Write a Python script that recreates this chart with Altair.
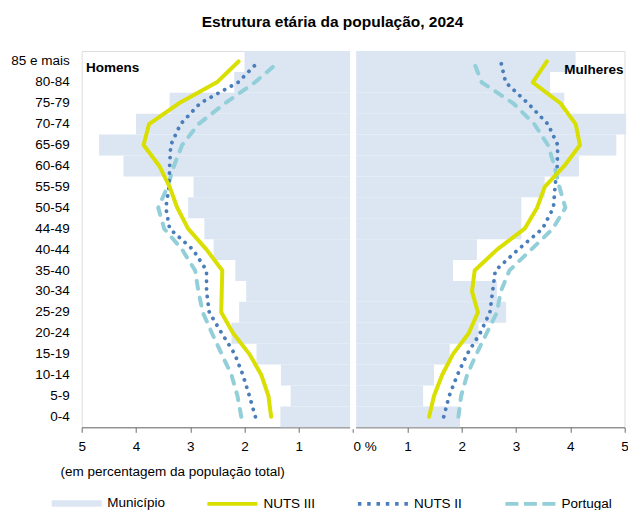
import altair as alt
import pandas as pd

# ---------------- data ----------------
ages = ["0-4", "5-9", "10-14", "15-19", "20-24", "25-29", "30-34", "35-40", "40-44",
        "44-49", "50-54", "55-59", "60-64", "65-69", "70-74", "75-79", "80-84", "85 e mais"]

series = ["Município", "NUTS III", "NUTS II", "Portugal"]

mun_h = [1.34, 1.15, 1.33, 1.78, 2.24, 2.10, 1.97, 2.17, 2.57, 2.74, 3.04, 2.94, 4.23, 4.68, 4.00, 3.38, 2.19, 2.00]
mun_m = [1.97, 1.29, 1.49, 1.78, 2.31, 2.82, 2.65, 1.84, 2.28, 3.10, 3.10, 3.53, 4.16, 4.85, 5.03, 3.89, 3.63, 4.10]
n3_h = [1.51, 1.56, 1.69, 1.91, 2.21, 2.43, 2.42, 2.41, 2.70, 3.04, 3.24, 3.38, 3.57, 3.86, 3.76, 3.21, 2.51, 2.11]
n3_m = [1.40, 1.49, 1.64, 1.84, 2.13, 2.30, 2.19, 2.24, 2.65, 3.16, 3.39, 3.53, 3.89, 4.18, 4.10, 3.82, 3.31, 3.57]
n2_h = [1.80, 1.91, 2.03, 2.18, 2.42, 2.65, 2.70, 2.70, 2.95, 3.38, 3.45, 3.39, 3.38, 3.36, 3.18, 2.82, 2.12, 1.74]
n2_m = [1.67, 1.77, 1.92, 2.10, 2.34, 2.52, 2.57, 2.62, 3.04, 3.49, 3.69, 3.72, 3.76, 3.77, 3.59, 3.22, 2.81, 2.72]
pt_h = [2.06, 2.13, 2.24, 2.42, 2.60, 2.77, 2.85, 2.91, 3.15, 3.48, 3.59, 3.42, 3.30, 3.15, 2.85, 2.36, 1.81, 1.36]
pt_m = [1.94, 1.99, 2.10, 2.27, 2.46, 2.65, 2.72, 2.88, 3.28, 3.68, 3.91, 3.80, 3.71, 3.59, 3.34, 2.95, 2.37, 2.22]

x_ticks = [-5, -4, -3, -2, -1, 0, 1, 2, 3, 4, 5]

# ---------------- table ----------------
rows = []
for serie, hv, mv in [("Município", mun_h, mun_m), ("NUTS III", n3_h, n3_m),
                      ("NUTS II", n2_h, n2_m), ("Portugal", pt_h, pt_m)]:
    for i, a in enumerate(ages):
        rows.append({"idade": a, "idx": i, "serie": serie, "sexo": "Homens", "x": -hv[i]})
        rows.append({"idade": a, "idx": i, "serie": serie, "sexo": "Mulheres", "x": mv[i]})
df = pd.DataFrame(rows)

W = 542.8
H = 376.3
FONT = "Liberation Sans"
FS = 13.5

colors = ["#dce6f2", "#d9df00", "#4a7ebb", "#93cfd9"]
line_series = series[1:]
line_colors = colors[1:]
line_dashes = [[1, 0], [3.5, 5.8], [13, 5.5]]

xscale = alt.Scale(domain=[-5, 5], nice=False, zero=False)
yscale = alt.Scale(paddingInner=0, paddingOuter=0)
age_order = list(reversed(ages))

xaxis = alt.Axis(
    values=x_ticks,
    labelExpr="datum.value == 0 ? '0 %' : '' + abs(datum.value)",
    labelAlign={"condition": {"test": "datum.value == 0", "value": "left"}, "value": "center"},
    labelFlush=False, grid=False,
    domainColor="#6b6b6b", tickColor="#6b6b6b", tickSize=5,
    labelFontSize=FS, labelColor="black", labelPadding=7.5, labelFont=FONT,
    title="(em percentagem da população total)",
    titleFontSize=FS, titleFontWeight="normal", titleColor="black", titleFont=FONT,
    titleAnchor="start", titleAlign="left", titleBaseline="alphabetic",
    titleX=-21.7, titleY=48.5,
)
yaxis = alt.Axis(title=None, ticks=False, domain=False, grid=False,
                 labelFontSize=FS, labelColor="black", labelPadding=12.4, labelFont=FONT)

X = alt.X("x:Q", scale=xscale, axis=xaxis)
Y = alt.Y("idade:N", sort=age_order, scale=yscale, axis=yaxis)

base = alt.Chart(df)

bars = base.transform_filter(alt.datum.serie == "Município").mark_bar(
    color=colors[0]).encode(x=X, y=Y)

gap = alt.Chart(pd.DataFrame({"x": [0]})).mark_rule(color="white", strokeWidth=6).encode(
    x=alt.X("x:Q", scale=xscale), y=alt.value(0), y2=alt.value(H + 2))

line_n3 = base.transform_filter(alt.datum.serie == "NUTS III").mark_line(
    color=colors[1], strokeWidth=4, strokeCap="round", strokeJoin="round").encode(
    x=X, y=Y, detail="sexo:N", order="idx:Q")
line_n2 = base.transform_filter(alt.datum.serie == "NUTS II").mark_line(
    color=colors[2], strokeWidth=3.8, strokeCap="round", strokeDash=[0.1, 7.6]).encode(
    x=X, y=Y, detail="sexo:N", order="idx:Q")
line_pt = base.transform_filter(alt.datum.serie == "Portugal").mark_line(
    color=colors[3], strokeWidth=4, strokeCap="round", strokeDash=[8, 9]).encode(
    x=X, y=Y, detail="sexo:N", order="idx:Q")

homens = alt.Chart(pd.DataFrame({"t": ["Homens"]})).mark_text(
    font=FONT, fontSize=FS, fontWeight="bold", align="left", baseline="alphabetic",
    color="black").encode(x=alt.value(4.3), y=alt.value(21), text="t:N")
mulheres = alt.Chart(pd.DataFrame({"t": ["Mulheres"]})).mark_text(
    font=FONT, fontSize=FS, fontWeight="bold", align="right", baseline="alphabetic",
    color="black").encode(x=alt.value(W - 1), y=alt.value(23), text="t:N")

# legend for the bars (Município): flat swatch
legA = alt.Legend(title=None, orient="none", legendX=-30, legendY=427.5,
                  direction="horizontal", symbolType="M-1,-0.134H1V0.134H-1Z", symbolSize=2500,
                  symbolStrokeWidth=0, labelFontSize=FS, labelColor="black", labelFont=FONT,
                  labelOffset=5.6, padding=0)
legend_bar = alt.Chart(pd.DataFrame({"serie": series[:1]})).transform_filter("false").mark_bar().encode(
    fill=alt.Fill("serie:N", scale=alt.Scale(domain=series[:1], range=colors[:1]), legend=legA))

# legend for the three lines
legB = alt.Legend(title=None, orient="none", legendX=123.7, legendY=425.6,
                  direction="horizontal", columns=3, symbolType="stroke", symbolSize=2500,
                  symbolStrokeWidth=3.8, labelFontSize=FS, labelColor="black", labelFont=FONT,
                  labelOffset=4, columnPadding=34.5, padding=0)
legend_line = alt.Chart(pd.DataFrame({"serie": line_series})).transform_filter("false").mark_line().encode(
    stroke=alt.Stroke("serie:N", scale=alt.Scale(domain=line_series, range=line_colors), legend=legB),
    strokeDash=alt.StrokeDash("serie:N", scale=alt.Scale(domain=line_series, range=line_dashes), legend=legB),
)

chart = alt.layer(bars, gap, line_pt, line_n2, line_n3, homens, mulheres,
                  legend_bar, legend_line).properties(
    width=W, height=H,
    autosize=alt.AutoSizeParams(type="none"),
    padding={"left": 73.7, "top": 43, "right": 3.5, "bottom": 84},
    title=alt.TitleParams("Estrutura etária da população, 2024", font=FONT, fontSize=15.5,
                          fontWeight="bold", color="black", anchor="start", dx=120,
                          baseline="alphabetic", offset=5, frame="group"),
).configure_view(stroke=None).configure(font=FONT)

chart.save("out.html", embed_options={"renderer": "svg", "actions": False})
